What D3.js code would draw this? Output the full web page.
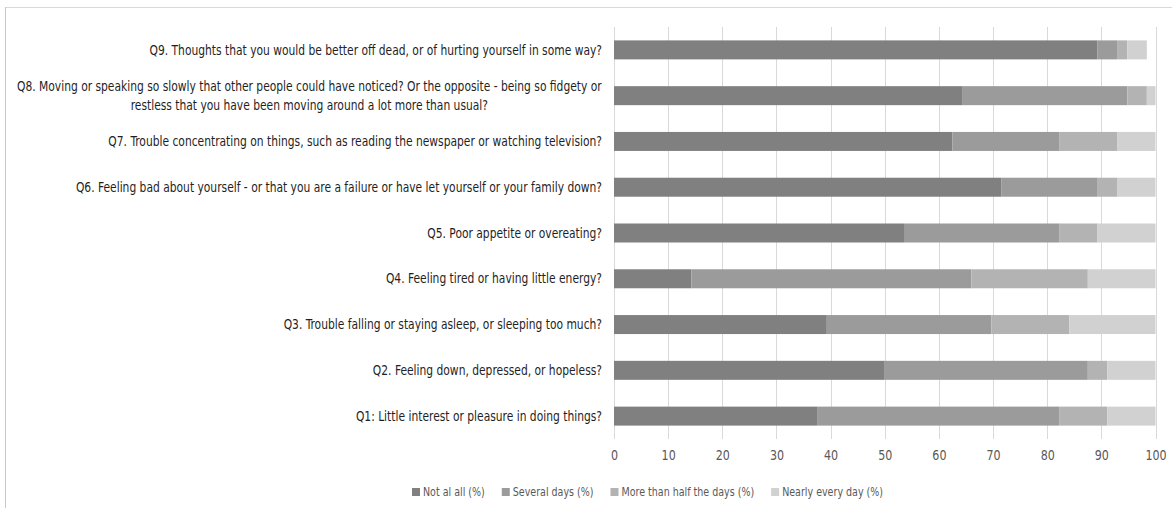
<!DOCTYPE html>
<html lang="en">
<head>
  <meta charset="UTF-8">
  <title>PHQ-9 responses</title>
  <script src="https://d3js.org/d3.v7.min.js"></script>
  <style>
    body { margin: 0; background: #fff; }
    text { font-family: "Liberation Sans Narrow", "DejaVu Sans Condensed", sans-serif; }
  </style>
</head>
<body>
<svg id="canvas" width="1172" height="508"></svg>
<script>
  // questions, bottom (Q1) to top (Q9); "\n" marks a line break
  const questions = [
    "Q1: Little interest or pleasure in doing things?",
    "Q2. Feeling down, depressed, or hopeless?",
    "Q3. Trouble falling or staying asleep, or sleeping too much?",
    "Q4. Feeling tired or having little energy?",
    "Q5. Poor appetite or overeating?",
    "Q6. Feeling bad about yourself - or that you are a failure or have let yourself or your family down?",
    "Q7. Trouble concentrating on things, such as reading the newspaper or watching television?",
    "Q8. Moving or speaking so slowly that other people could have noticed? Or the opposite - being so fidgety or\nrestless that you have been moving around a lot more than usual?",
    "Q9. Thoughts that you would be better off dead, or of hurting yourself in some way?"
  ];
  const notAtAll     = [37.5, 50.0, 39.3, 14.3, 53.7, 71.5, 62.5, 64.4, 89.3];
  const severalDays  = [44.7, 37.5, 30.4, 51.7, 28.6, 17.7, 19.7, 30.4, 3.6];
  const moreThanHalf = [8.9, 3.6, 14.4, 21.5, 7.0, 3.8, 10.7, 3.6, 1.9];
  const nearlyEvery  = [8.9, 8.9, 15.9, 12.5, 10.7, 7.0, 7.1, 1.6, 3.6];
  const seriesNames  = ["Not al all (%)", "Several days (%)", "More than half the days (%)", "Nearly every day (%)"];
  const xTicks       = [0, 10, 20, 30, 40, 50, 60, 70, 80, 90, 100];

  const colors = ["#808080", "#9b9b9b", "#b3b3b3", "#d1d1d1"];
  const svg = d3.select("#canvas");

  // frame
  svg.append("line").attr("x1", 5).attr("x2", 1172).attr("y1", 7.5).attr("y2", 7.5).attr("stroke", "#d9d9d9");
  svg.append("line").attr("x1", 5.5).attr("x2", 5.5).attr("y1", 7).attr("y2", 508).attr("stroke", "#c8c8c8");

  const x = d3.scaleLinear().domain([0, 100]).range([614, 1155.5]);
  const y = d3.scaleBand().domain(questions.slice().reverse()).range([27, 439])
    .paddingInner(0.585).paddingOuter(0.2925);

  // gridlines
  svg.append("g").selectAll("line").data(xTicks).join("line")
    .attr("x1", d => Math.round(x(d)) + 0.5).attr("x2", d => Math.round(x(d)) + 0.5)
    .attr("y1", 27).attr("y2", 439)
    .attr("stroke", "#d9d9d9");

  // stacked bars
  const rows = questions.map((q, i) => ({q, s0: notAtAll[i], s1: severalDays[i], s2: moreThanHalf[i], s3: nearlyEvery[i]}));
  const stack = d3.stack().keys(["s0", "s1", "s2", "s3"])(rows);
  svg.append("g").selectAll("g").data(stack).join("g")
    .attr("fill", (d, i) => colors[i])
    .selectAll("rect").data(d => d).join("rect")
    .attr("x", d => x(d[0]))
    .attr("width", d => x(d[1]) - x(d[0]))
    .attr("y", d => y(d.data.q))
    .attr("height", y.bandwidth());

  // category labels (fallback font is wider than the original's, so squeeze horizontally)
  const labelRight = 602;
  const labels = svg.append("g");
  const probe = labels.append("text").style("font-size", "13.5px").text(questions[8]);
  const squeeze = 453 / probe.node().getComputedTextLength();
  probe.remove();

  questions.forEach(q => {
    const lines = q.split("\n");
    const cy = y(q) + y.bandwidth() / 2;
    const lh = 19;
    const t = labels.append("text").attr("fill", "#1f1f1f").style("font-size", "13.5px");
    lines.forEach((ln, k) => {
      t.append("tspan").attr("x", 0).attr("y", cy + (k - (lines.length - 1) / 2) * lh).attr("dy", "0.35em").text(ln);
    });
    if (lines.length === 1) {
      t.attr("text-anchor", "end").attr("transform", `translate(${labelRight},0) scale(${squeeze},1)`);
    } else {
      const w = d3.max(t.selectAll("tspan").nodes(), n => n.getComputedTextLength()) * squeeze;
      t.attr("text-anchor", "middle").attr("transform", `translate(${labelRight - w / 2},0) scale(${squeeze},1)`);
    }
  });

  // x axis labels
  const xAxis = svg.append("g").attr("transform", "translate(0,450)")
    .call(d3.axisBottom(x).tickValues(xTicks).tickSize(0).tickPadding(0));
  xAxis.select(".domain").remove();
  xAxis.selectAll("text").attr("fill", "#595959").style("font-size", "14px")
    .style("font-family", "'Liberation Sans Narrow', 'DejaVu Sans Condensed', sans-serif")
    .attr("transform", `scale(${squeeze},1)`);

  // legend
  const legend = svg.append("g").attr("transform", "translate(412,492)");
  let lx = 0;
  seriesNames.forEach((name, i) => {
    const g = legend.append("g").attr("transform", `translate(${lx},0)`);
    g.append("rect").attr("x", 0).attr("y", -4).attr("width", 8).attr("height", 8).attr("fill", colors[i]);
    const t = g.append("text").attr("dy", "0.35em").attr("fill", "#595959")
      .attr("transform", `translate(11,0) scale(${squeeze},1)`)
      .style("font-size", "12px").text(name);
    lx += 11 + t.node().getComputedTextLength() * squeeze + 17;
  });
</script>
</body>
</html>
